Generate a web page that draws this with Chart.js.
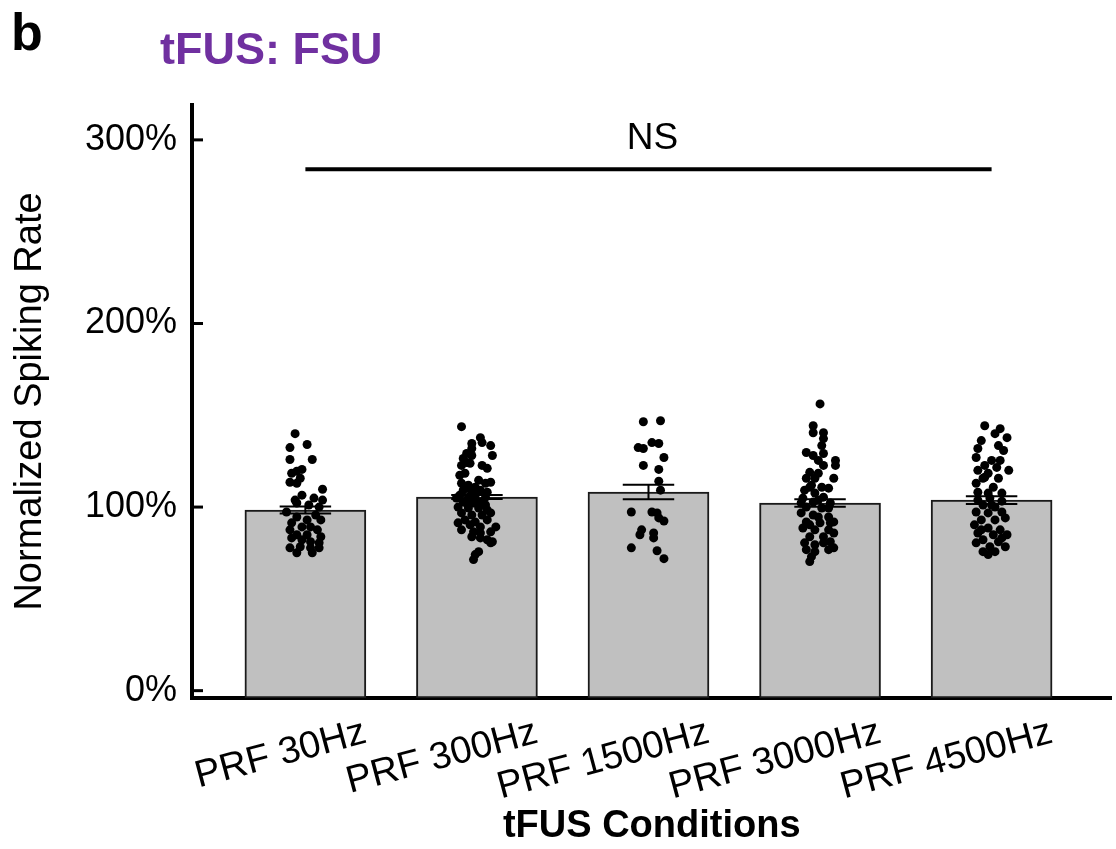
<!DOCTYPE html>
<html>
<head>
<meta charset="utf-8">
<script src="https://cdn.jsdelivr.net/npm/chart.js@4.4.0/dist/chart.umd.min.js"></script>
<style>
  body { margin: 0; background: #fff; }
  canvas { display: block; }
</style>
</head>
<body>
<canvas id="rateChart" width="1116" height="849"></canvas>
<script>
// conditions and bar means (normalized spiking rate, %)
const conditions = ['PRF 30Hz', 'PRF 300Hz', 'PRF 1500Hz', 'PRF 3000Hz', 'PRF 4500Hz'];
const meanRate = [98.4, 105.5, 108.2, 102.2, 103.8];
const semRate = [1.9, 1.1, 4.0, 2.0, 2.1];
const yTickValues = [0, 100, 200, 300];
const nsLevel = 284;

// single units per condition, with the horizontal jitter (in category widths)
const units30 = [140.0, 132.4, 134.1, 125.9, 125.9, 119.5, 120.5, 118.4, 115.7, 113.5,
  113.0, 106.5, 109.7, 104.9, 102.2, 103.8, 100.0, 94.6, 95.7, 93.0,
  91.4, 93.0, 89.2, 89.2, 87.6, 87.6, 84.9, 84.9, 83.8, 83.2,
  81.1, 80.5, 82.2, 77.8, 78.4, 77.8, 77.8, 75.1, 75.1, 103.8, 101.1, 97.3];
const jitter30 = [-0.06, -0.09, 0.01, -0.09, 0.04, -0.05, -0.02, -0.08, -0.03, -0.09,
  -0.05, -0.02, 0.10, 0.05, -0.05, 0.10, 0.08, -0.05, 0.06, 0.01,
  -0.08, 0.09, -0.02, 0.03, -0.09, 0.07, -0.05, 0.01, 0.09, -0.08,
  0.03, 0.08, -0.02, -0.09, -0.03, 0.03, 0.08, -0.05, 0.04, -0.06, 0.02, -0.11];

const units300 = [143.8, 137.8, 134.6, 135.1, 133.5, 129.2, 128.1, 128.1, 126.5, 122.7,
  123.8, 122.7, 121.1, 118.4, 117.3, 113.0, 113.5, 113.0, 111.9, 110.8,
  109.2, 108.1, 109.2, 108.1, 106.5, 105.4, 106.5, 105.4, 102.7, 102.2,
  102.7, 100.0, 99.5, 99.5, 98.4, 96.8, 95.7, 95.7, 96.8, 93.0,
  91.9, 93.0, 91.4, 90.3, 89.2, 87.6, 86.5, 85.9, 89.2, 86.5,
  83.8, 83.2, 82.2, 80.5, 81.1, 75.7, 71.4, 74.1, 110.3, 114.6,
  124.3, 131.9, 104.9, 101.1, 102.2];
const jitter300 = [-0.09, 0.02, -0.03, 0.03, 0.08, -0.06, -0.03, 0.09, -0.08, -0.09,
  -0.04, 0.03, 0.06, -0.07, -0.10, 0.05, 0.08, -0.09, -0.05, -0.01,
  -0.08, -0.03, 0.02, 0.06, -0.10, -0.05, -0.01, 0.05, -0.08, -0.02,
  0.02, -0.11, -0.05, 0.01, 0.06, -0.09, -0.03, 0.03, 0.08, -0.07,
  -0.01, 0.06, -0.11, -0.04, 0.02, -0.09, -0.02, 0.02, 0.11, 0.08,
  -0.03, 0.02, 0.06, 0.08, 0.09, 0.01, -0.02, -0.01, -0.06, 0.01,
  -0.06, -0.03, -0.12, 0.05, -0.06];

const units1500 = [146.5, 147.0, 132.4, 131.9, 135.1, 134.6, 127.0, 122.7, 120.5, 114.1,
  109.2, 97.3, 97.3, 96.8, 92.4, 87.6, 84.9, 85.9, 83.2, 77.8, 76.2, 71.9, 94.1];
const jitter1500 = [-0.03, 0.07, -0.06, -0.03, 0.02, 0.06, 0.09, -0.03, 0.06, 0.06,
  0.07, -0.10, 0.02, 0.05, 0.09, -0.04, -0.05, 0.03, 0.03, -0.10, 0.05, 0.09, 0.06];

const units3000 = [156.2, 144.3, 140.5, 140.5, 137.3, 133.5, 129.7, 128.1, 129.2, 125.4,
  125.4, 122.7, 122.7, 118.9, 115.7, 115.7, 115.7, 111.9, 110.8, 110.3,
  109.2, 107.6, 105.4, 104.9, 102.7, 102.2, 100.0, 99.5, 96.8, 95.7,
  94.6, 91.9, 91.4, 91.4, 88.6, 87.6, 87.6, 85.9, 83.8, 83.8,
  81.1, 80.5, 79.5, 77.8, 76.8, 73.0, 70.3, 94.6, 90.3, 80.5,
  102.2, 103.8, 99.5, 91.9, 76.8, 75.7, 110.8, 118.4];
const jitter3000 = [0, -0.04, -0.04, 0.02, 0.02, 0.01, -0.08, -0.04, 0.02, -0.01,
  0.09, 0.02, 0.09, -0.06, -0.08, -0.03, 0.08, -0.05, 0.01, 0.05,
  -0.09, -0.03, 0.02, -0.10, -0.04, 0.06, -0.08, 0.01, -0.11, -0.04,
  0.05, -0.08, 0, 0.06, -0.10, -0.03, 0.05, 0.08, -0.06, 0.02,
  0.06, -0.09, -0.03, 0.08, -0.08, -0.05, -0.06, -0.01, -0.06, 0.02,
  -0.11, -0.01, 0.05, 0.08, 0.05, -0.03, -0.06, -0.01];

const units4500 = [144.3, 142.7, 140.0, 137.8, 136.2, 131.9, 133.5, 130.8, 127.0, 125.4,
  125.4, 122.7, 121.6, 120.0, 118.4, 120.0, 115.7, 115.7, 113.0, 110.8,
  108.1, 107.6, 107.6, 103.8, 104.9, 103.2, 101.1, 100.0, 97.3, 96.8,
  97.3, 93.0, 93.0, 94.1, 90.3, 88.6, 87.6, 85.9, 84.9, 84.9,
  82.2, 81.1, 80.5, 78.4, 78.4, 75.7, 75.7, 74.1, 116.2, 101.1, 87.6, 83.2];
const jitter4500 = [-0.04, 0.05, 0.02, 0.09, -0.06, -0.08, 0.04, 0.07, -0.09, 0,
  0.05, -0.04, 0.03, -0.08, -0.02, 0.10, -0.05, 0.04, -0.09, 0.01,
  -0.08, -0.02, 0.06, -0.08, -0.01, 0.06, -0.05, 0.02, -0.09, -0.02,
  0.06, -0.06, 0.02, 0.08, -0.10, -0.02, 0.05, -0.08, 0.01, 0.09,
  -0.05, 0.04, -0.09, -0.01, 0.08, -0.05, 0.02, -0.02, -0.04, 0, -0.06, 0.06];

const unitSets = [[units30, jitter30], [units300, jitter300], [units1500, jitter1500],
  [units3000, jitter3000], [units4500, jitter4500]];

Chart.defaults.font.family = '"Liberation Sans", Arial, sans-serif';
Chart.defaults.color = '#000';

// error bars, inward y ticks, NS label and panel headings
const extras = {
  id: 'extras',
  afterDatasetsDraw(chart) {
    const ctx = chart.ctx;
    const x = chart.scales.x, y = chart.scales.y;
    ctx.save();
    ctx.strokeStyle = '#000';
    ctx.lineWidth = 2;
    meanRate.forEach((m, i) => {
      const cx = x.getPixelForValue(i);
      const hw = x.getPixelForValue(i + 0.15) - cx;
      const top = y.getPixelForValue(m + semRate[i]);
      const bot = y.getPixelForValue(m - semRate[i]);
      ctx.beginPath();
      ctx.moveTo(cx, top); ctx.lineTo(cx, bot);
      ctx.moveTo(cx - hw, top); ctx.lineTo(cx + hw, top);
      ctx.moveTo(cx - hw, bot); ctx.lineTo(cx + hw, bot);
      ctx.stroke();
    });
    ctx.restore();
  },
  afterDraw(chart) {
    const ctx = chart.ctx;
    const x = chart.scales.x, y = chart.scales.y;
    const area = chart.chartArea;
    ctx.save();
    ctx.strokeStyle = '#000';
    ctx.lineWidth = 3;
    yTickValues.forEach(v => {
      const py = y.getPixelForValue(v);
      ctx.beginPath();
      ctx.moveTo(area.left, py);
      ctx.lineTo(area.left + 11, py);
      ctx.stroke();
    });

    ctx.fillStyle = '#000';
    ctx.font = '37px "Liberation Sans", Arial, sans-serif';
    ctx.textAlign = 'center';
    ctx.textBaseline = 'alphabetic';
    const nsX = (x.getPixelForValue(0) + x.getPixelForValue(4)) / 2;
    ctx.fillText('NS', nsX + 4, y.getPixelForValue(nsLevel) - 20);

    ctx.textAlign = 'left';
    ctx.font = 'bold 52px "Liberation Sans", Arial, sans-serif';
    ctx.fillText('b', 11, 50);
    ctx.fillStyle = '#7030a0';
    ctx.font = 'bold 45px "Liberation Sans", Arial, sans-serif';
    ctx.fillText('tFUS: FSU', 160, 64);
    ctx.restore();
  }
};

new Chart(document.getElementById('rateChart'), {
  type: 'bar',
  data: {
    datasets: [
      {
        type: 'line',
        data: [{ x: 0, y: nsLevel }, { x: 4, y: nsLevel }],
        borderColor: '#000',
        borderWidth: 4,
        pointRadius: 0,
        order: 1
      },
      ...unitSets.map(([vals, jit], i) => ({
        type: 'scatter',
        data: vals.map((v, k) => ({ x: i + (jit[k] || 0), y: v })),
        backgroundColor: '#000',
        borderWidth: 0,
        pointRadius: 4.5,
        order: 2
      })),
      {
        type: 'bar',
        data: meanRate.map((m, i) => ({ x: i, y: m })),
        backgroundColor: '#c0c0c0',
        borderColor: '#1a1a1a',
        borderWidth: 2,
        borderSkipped: false,
        barThickness: 121,
        base: -4,
        order: 3
      }
    ]
  },
  options: {
    responsive: false,
    animation: false,
    events: [],
    layout: { padding: { top: 105, right: 0, bottom: 0, left: 0 } },
    plugins: { legend: { display: false }, tooltip: { enabled: false } },
    scales: {
      x: {
        type: 'linear',
        offset: false,
        min: -0.661,
        max: 4.699,
        afterBuildTicks: s => { s.ticks = conditions.map((c, i) => ({ value: i })); },
        afterFit: s => { s.height = 151; },
        grid: { display: false, drawTicks: false },
        border: { color: '#000', width: 4 },
        ticks: {
          autoSkip: false,
          minRotation: 15,
          maxRotation: 15,
          labelOffset: 60,
          padding: 12,
          font: { size: 38 },
          callback: (v, i) => conditions[i]
        },
        title: {
          display: true,
          text: 'tFUS Conditions',
          font: { size: 38, weight: 'bold' },
          padding: { top: 0, bottom: 0 }
        }
      },
      y: {
        min: -4,
        max: 319,
        afterBuildTicks: s => { s.ticks = yTickValues.map(v => ({ value: v })); },
        afterFit: s => { s.width = 192; },
        grid: { display: false, drawTicks: false },
        border: { color: '#000', width: 4 },
        ticks: { padding: 15, font: { size: 36 }, callback: v => v + '%' },
        title: {
          display: true,
          text: 'Normalized Spiking Rate',
          font: { size: 38 },
          padding: { top: 8, bottom: 0 }
        }
      }
    }
  },
  plugins: [extras]
});
</script>
</body>
</html>
